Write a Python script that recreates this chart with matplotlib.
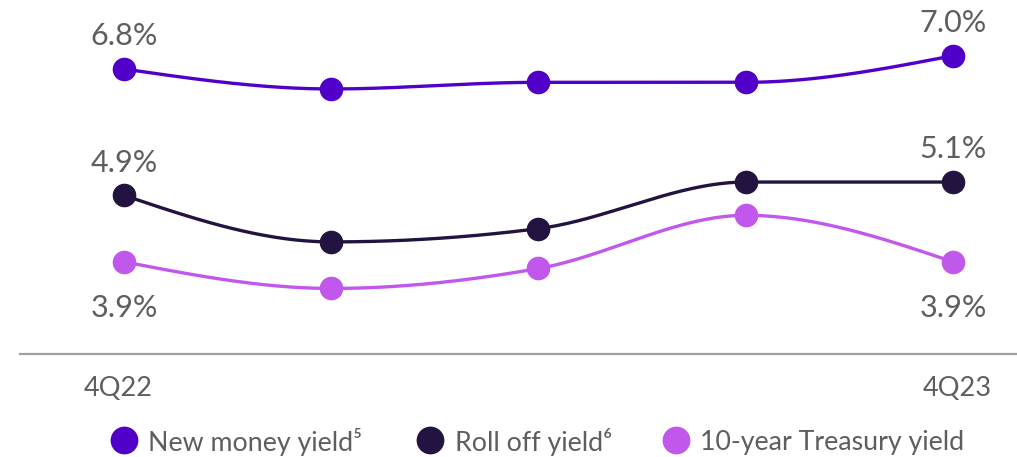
import numpy as np
import matplotlib
matplotlib.use("Agg")
import matplotlib.pyplot as plt

plt.rcParams['font.family'] = ['Lato', 'DejaVu Sans']

# Quarterly yields (%)
quarters = ["4Q22", "1Q23", "2Q23", "3Q23", "4Q23"]
new_money = [6.8, 6.5, 6.6, 6.6, 7.0]
roll_off = [4.9, 4.2, 4.4, 5.1, 5.1]
treasury = [3.9, 3.5, 3.8, 4.6, 3.9]
series_names = ["New money yield\u2075", "Roll off yield\u2076", "10-year Treasury yield"]
colors = ["#5000C8", "#221340", "#C257EC"]
text_color = "#5e5e5e"


def monotone_curve(x, y, n=60):
    """Monotone cubic (Steffen-style) interpolation, as used by curveMonotoneX."""
    x = np.asarray(x, float)
    y = np.asarray(y, float)
    m = len(x)
    h = np.diff(x)
    s = np.diff(y) / h
    t = np.zeros(m)
    for i in range(1, m - 1):
        p = (s[i - 1] * h[i] + s[i] * h[i - 1]) / (h[i - 1] + h[i])
        t[i] = (np.sign(s[i - 1]) + np.sign(s[i])) * min(abs(s[i - 1]), abs(s[i]), 0.5 * abs(p))
    t[0] = (3 * s[0] - t[1]) / 2
    t[-1] = (3 * s[-1] - t[-2]) / 2
    xs, ys = [], []
    for i in range(m - 1):
        u = np.linspace(0, 1, n)
        p0, p3 = y[i], y[i + 1]
        p1 = p0 + t[i] * h[i] / 3
        p2 = p3 - t[i + 1] * h[i] / 3
        xs.append(x[i] + u * h[i])
        ys.append((1 - u) ** 3 * p0 + 3 * (1 - u) ** 2 * u * p1 + 3 * (1 - u) * u ** 2 * p2 + u ** 3 * p3)
    return np.concatenate(xs), np.concatenate(ys)


W, H = 1017, 457
fig = plt.figure(figsize=(W / 100, H / 100), dpi=100)
ax = fig.add_axes([20 / W, 103 / H, 997 / W, 354 / H])

xi = np.arange(len(quarters))
for vals, col in zip([new_money, roll_off, treasury], colors):
    cx, cy = monotone_curve(xi, vals)
    ax.plot(cx, cy, color=col, lw=2.4, solid_capstyle="round", zorder=2)
    ax.plot(xi, vals, "o", color=col, ms=17, mec="none", zorder=3)

ax.set_xlim(-0.502, 4.309)
ax.set_ylim(2.514, 7.838)

for s in ["top", "right", "left"]:
    ax.spines[s].set_visible(False)
ax.spines["bottom"].set_color("#a0a0a0")
ax.spines["bottom"].set_linewidth(1.6)
ax.set_yticks([])
ax.set_xticks([-0.03, 4.02])
ax.set_xticklabels([quarters[0], quarters[-1]], fontsize=19.5, color=text_color)
ax.tick_params(axis="x", length=0, pad=16)

# Value labels at the first and last quarter
lab = dict(fontsize=22, color=text_color, ha="center", va="baseline",
           textcoords="offset points")
for idx in [0, 4]:
    ax.annotate(f"{new_money[idx]:.1f}%", (idx, new_money[idx]), xytext=(0, 17), **lab)
    ax.annotate(f"{roll_off[idx]:.1f}%", (idx, roll_off[idx]), xytext=(0, 17), **lab)
    ax.annotate(f"{treasury[idx]:.1f}%", (idx, treasury[idx]), xytext=(0, -40), **lab)

# Legend row: marker + label per series
leg_marker_x = [124, 430, 676]
leg_text_x = [148, 455, 700]
leg_y = 1 - 440 / H
for mx, tx, name, col in zip(leg_marker_x, leg_text_x, series_names, colors):
    fig.lines.append(plt.Line2D([mx / W], [leg_y], marker="o", ms=20, color=col, mec="none",
                                ls="none", transform=fig.transFigure))
    fig.text(tx / W, leg_y, name, fontsize=19.3, color=text_color, ha="left", va="center_baseline")

fig.savefig("out.png", dpi=100)
